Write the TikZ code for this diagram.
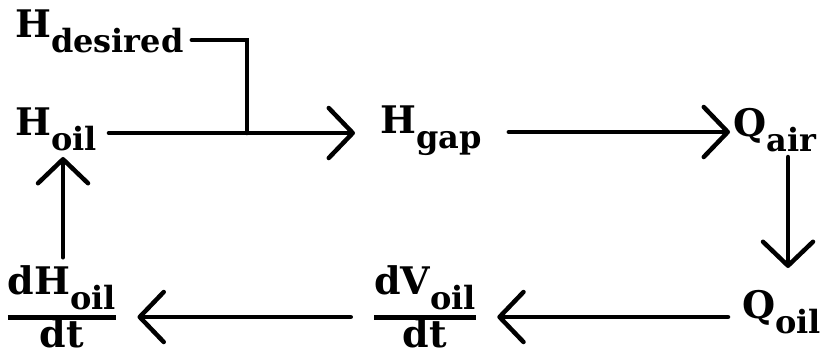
\documentclass[tikz,border=0pt]{standalone}
\usepackage{fix-cm}
\usepackage{amsmath}
\usepackage{fontspec}
\setmainfont{DejaVu Serif}
\usetikzlibrary{arrows.meta,positioning}
\tikzset{
  var/.style={inner sep=0pt, font=\fontsize{38}{44}\selectfont\bfseries},
  flow/.style={-{Straight Barb[length=24pt,width=50pt,round]},
    line width=4.5pt, line cap=round},
  feed/.style={line width=4.5pt, line cap=round},
}
\newcommand{\vsub}[2]{#1\raisebox{-0.4em}{\fontsize{32}{36}\selectfont #2}}
\newcommand{\vfrac}[2]{$\genfrac{}{}{5pt}{1}{\hbox{#1}}{\hbox{\raisebox{0pt}[0.6em]{#2}}}$}

\begin{document}
\begin{tikzpicture}[x=1pt,y=-1pt]
  \useasboundingbox (0,0) rectangle (831,356);

  % Upper row
  \node[var, anchor=base west] (hdes) at (15,37)  {\vsub{H}{desired}};
  \node[var, anchor=base west] (hoil) at (15,135) {\vsub{H}{oil}};
  \node[var, anchor=base west] (hgap) at (380,133) {\vsub{H}{gap}};
  \node[var, anchor=base west] (qair) at (733,136) {\vsub{Q}{air}};

  % Lower row
  \node[var, anchor=base west] (qoil) at (742,318) {\vsub{Q}{oil}};
  \node[var, anchor=base] (dvoil) at (425,327) {\vfrac{d\vsub{V}{oil}}{dt}};
  \node[var, anchor=base] (dhoil) at (62,327)  {\vfrac{d\vsub{H}{oil}}{dt}};

  \coordinate (sum) at (247,133);

  % Loop
  \draw[feed] ([shift={(8,3)}]hdes.base east) -| (sum);
  \draw[flow] ([shift={(12,-2)}]hoil.base east) -- ([shift={(-25,0)}]hgap.base west);
  \draw[flow] ([shift={(27,-1)}]hgap.base east) -- ([shift={(-3,-4)}]qair.base west);
  \draw[flow] ([shift={(55,21)}]qair.base west) -- ([shift={(46,-50)}]qoil.base west);
  \draw[flow] ([shift={(-14,-1)}]qoil.base west) -- ([shift={(20,-10)}]dvoil.base east);
  \draw[flow] ([shift={(-22,-10)}]dvoil.base west) -- ([shift={(20,-10)}]dhoil.base east);
  \draw[flow] ([shift={(1,-8)}]dhoil.north) -- ([shift={(48,22)}]hoil.base west);

\end{tikzpicture}
\end{document}
